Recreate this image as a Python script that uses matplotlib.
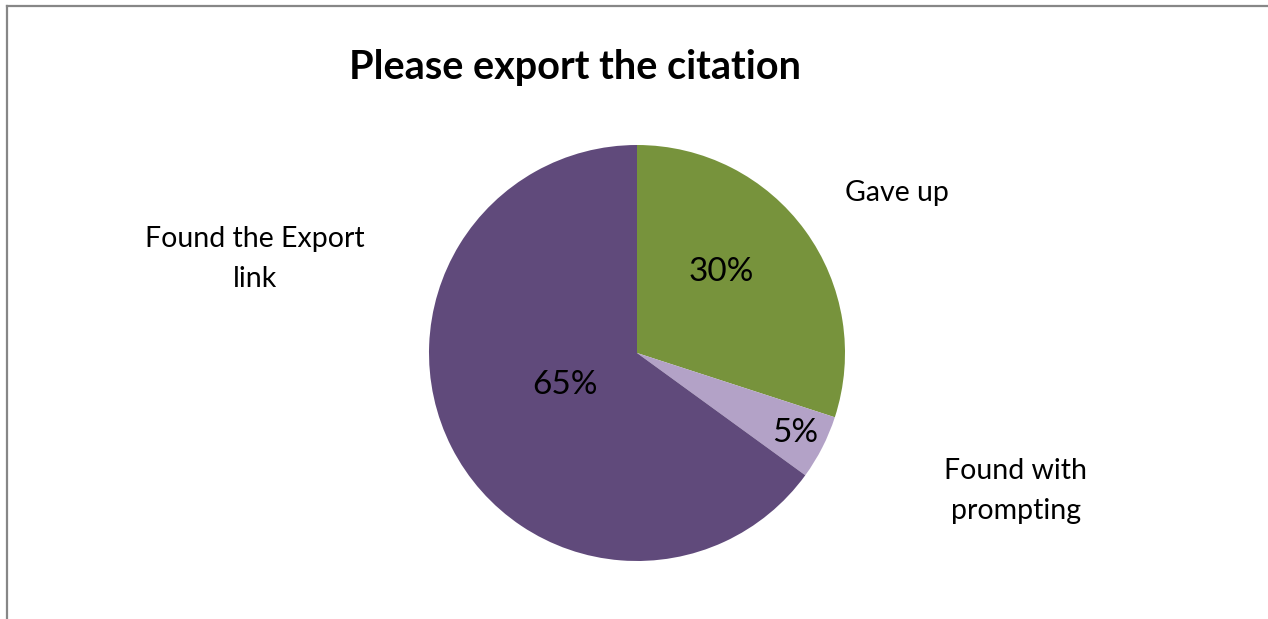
import matplotlib
matplotlib.use("Agg")
import matplotlib.pyplot as plt
from matplotlib.lines import Line2D

title = "Please export the citation"
categories = ["Gave up", "Found with\nprompting", "Found the Export\nlink"]
values = [30, 5, 65]
colors = ["#77933C", "#B3A2C7", "#604A7B"]

plt.rcParams['font.family'] = ['Lato', 'DejaVu Sans']

W, H = 1268, 619
fig = plt.figure(figsize=(W / 100, H / 100), dpi=100)

# pie axes: center (637,353), radius 208 px
cx, cy, r = 637, 353, 208
ax = fig.add_axes([(cx - r) / W, 1 - (cy + r) / H, 2 * r / W, 2 * r / H])
wedges, texts, autotexts = ax.pie(
    values, colors=colors, startangle=90, counterclock=False,
    autopct=lambda p: f"{p:.0f}%", pctdistance=0.6, radius=1,
    wedgeprops=dict(linewidth=0),
    textprops=dict(fontsize=24, color="black"))
ax.set_xlim(-1, 1)
ax.set_ylim(-1, 1)
ax.set_aspect("equal")

# percent label positions (pixel coords)
pct_pos = [(721, 272), (795, 433), (565, 385)]
for t, (x, y) in zip(autotexts, pct_pos):
    t.set_position(((x - cx) / r, -(y - cy) / r))
    t.set_ha("center")
    t.set_va("center")

lab_pos = [(897, 193), (1016, 491), (255, 259)]
for lab, (x, y) in zip(categories, lab_pos):
    fig.text(x / W, 1 - y / H, lab, ha="center", va="center",
             fontsize=20.5, linespacing=1.62, color="black")

fig.text(575 / W, 1 - 68 / H, title, ha="center", va="center",
         fontsize=28.5, fontweight="bold", color="black")

# border lines
fig.add_artist(Line2D([7 / W, 7 / W], [0, 1 - 6 / H], transform=fig.transFigure,
                      color="#878787", linewidth=1.6))
fig.add_artist(Line2D([7 / W, 1], [1 - 6 / H, 1 - 6 / H], transform=fig.transFigure,
                      color="#878787", linewidth=1.6))

fig.savefig("out.png", dpi=100)
